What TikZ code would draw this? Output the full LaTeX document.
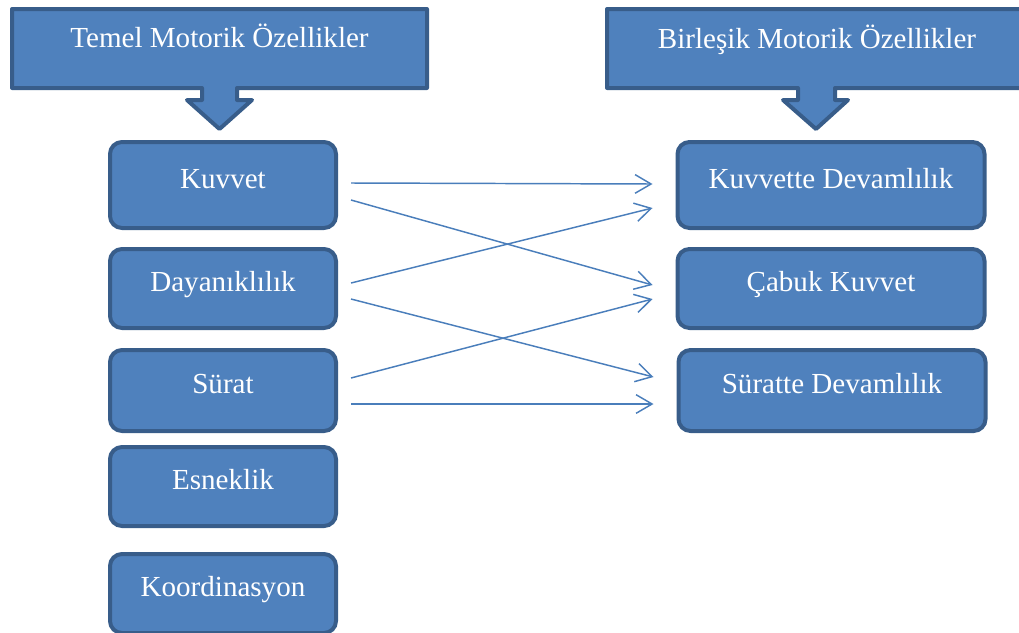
\documentclass[tikz,border=0pt]{standalone}
\usepackage{fontspec}
\setmainfont{Liberation Serif}
\usetikzlibrary{arrows.meta,calc}
\definecolor{boxfill}{HTML}{4F81BD}
\definecolor{boxline}{HTML}{385D8A}
\definecolor{arrowc}{HTML}{4A7EBB}
\begin{document}
\begin{tikzpicture}[x=0.75pt,y=-0.75pt,
  txt/.style={text=white, font=\fontsize{21.8pt}{26pt}\selectfont, inner sep=0pt},
  box/.style={draw=boxline, fill=boxfill, line width=3pt, rounded corners=9pt, inner sep=0pt},
  lbox/.style={box, minimum width=169.5pt},
  rbox/.style={box, minimum width=230.25pt},
  callout/.style={draw=boxline, fill=boxfill, line width=3pt, line join=round},
  arr/.style={draw=arrowc, line width=1.1pt, -{Straight Barb[length=12pt,width=14pt,line width=1.1pt]}},
  lab/.style={label={[txt,text height=15pt,text depth=5pt,yshift=2.75pt]center:#1}}
]
\useasboundingbox (0,0) rectangle (1019,632);

% callouts
\draw[callout] (12,9) -- (427,9) -- (427,88) -- (237,88) -- (237,100) -- (252,100) -- (219.5,129)
  -- (187,100) -- (202,100) -- (202,88) -- (12,88) -- cycle;
\node[txt, anchor=base] (temel) at (219.5,47) {Temel Motorik Özellikler};

\draw[callout] (607,9) -- (1030,9) -- (1030,88) -- (835,88) -- (835,100) -- (848,100) -- (816,129)
  -- (783,100) -- (798,100) -- (798,88) -- (607,88) -- cycle;
\node[txt, anchor=base] (birlesik) at (817,48) {Birleşik Motorik Özellikler};

% left boxes
\node[lbox, minimum height=64.5pt, lab=Kuvvet] (kuvvet) at (223,185) {};
\node[lbox, minimum height=59.25pt, lab=Dayanıklılık] (day) at (223,288.5) {};
\node[lbox, minimum height=60.75pt, lab=Sürat] (surat) at (223,390.5) {};
\node[lbox, minimum height=59.25pt, lab=Esneklik] (esnek) at (223,486.5) {};
\node[lbox, minimum height=59.25pt, lab=Koordinasyon] (koord) at (223,593.5) {};

% right boxes
\node[rbox, minimum height=64.5pt, lab=Kuvvette Devamlılık] (kd) at (831,185) {};
\node[rbox, minimum height=59.25pt, lab=Çabuk Kuvvet] (ck) at (831,288.5) {};
\node[rbox, minimum height=60.75pt, lab=Süratte Devamlılık] (sd) at (832,390.5) {};

% connectors
\draw[arr] ($(kuvvet.east)+(13,-2)$) -- ($(kd.west)+(-23,-1)$);
\draw[arr] ($(kuvvet.east)+(13,15)$) -- ($(ck.west)+(-23,-3.5)$);
\draw[arr] ($(day.east)+(13,-5.5)$) -- ($(kd.west)+(-23,23)$);
\draw[arr] ($(day.east)+(13,10.5)$) -- ($(sd.west)+(-23,-13.5)$);
\draw[arr] ($(surat.east)+(13,-12.5)$) -- ($(ck.west)+(-23,10.5)$);
\draw[arr] ($(surat.east)+(13,13.5)$) -- ($(sd.west)+(-23,13.5)$);
\end{tikzpicture}
\end{document}
